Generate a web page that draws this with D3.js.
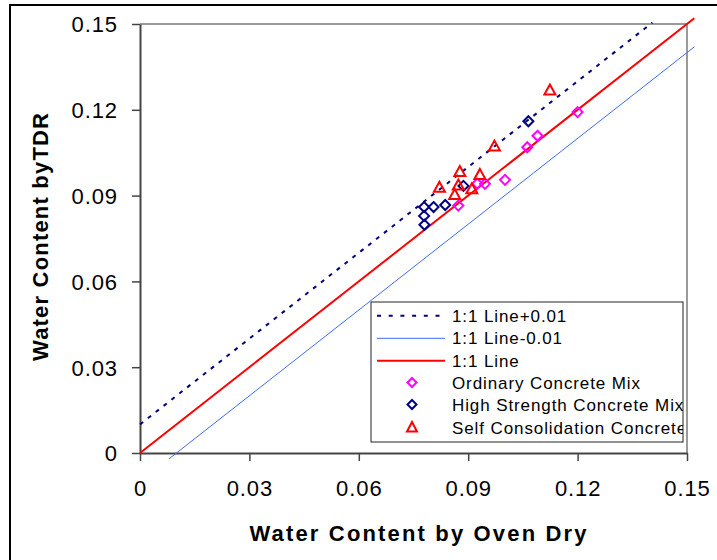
<!DOCTYPE html>
<html>
<head>
<meta charset="utf-8">
<script src="https://cdn.jsdelivr.net/npm/d3@7/dist/d3.min.js"></script>
<style>
  html, body { margin: 0; padding: 0; background: #fff; }
  svg { display: block; }
  text { font-family: Arial, "Liberation Sans", sans-serif; fill: #000; }
</style>
</head>
<body>
<svg id="chart" width="717" height="560"></svg>
<script>
// ---- data ----
const xTicks = [0, 0.03, 0.06, 0.09, 0.12, 0.15];
const yTicks = [0, 0.03, 0.06, 0.09, 0.12, 0.15];
const xTickLabels = ["0", "0.03", "0.06", "0.09", "0.12", "0.15"];
const yTickLabels = ["0", "0.03", "0.06", "0.09", "0.12", "0.15"];

const linePlus = [[0, 0.01], [0.1405, 0.1505]];      // 1:1 Line+0.01
const lineMinus = [[0.008, -0.002], [0.152, 0.142]]; // 1:1 Line-0.01
const lineOne = [[0, 0], [0.152, 0.152]];            // 1:1 Line

const ordinary = [[0.1200, 0.1192], [0.1090, 0.1109], [0.1062, 0.1069], [0.1001, 0.0955],
                  [0.0946, 0.0941], [0.0925, 0.0942], [0.0873, 0.0865]];
const highStrength = [[0.1065, 0.1160], [0.0887, 0.0934], [0.0837, 0.0867], [0.0805, 0.0860],
                      [0.0779, 0.0860], [0.0779, 0.0829], [0.0780, 0.0798]];
const selfConsol = [[0.1124, 0.1269], [0.0972, 0.1073], [0.0877, 0.0984], [0.0932, 0.0974],
                    [0.0821, 0.0929], [0.0873, 0.0937], [0.0863, 0.0904], [0.0910, 0.0924]];

const legendLabels = ["1:1 Line+0.01", "1:1 Line-0.01", "1:1 Line",
                      "Ordinary Concrete Mix", "High Strength Concrete Mix", "Self Consolidation Concrete"];

// ---- layout ----
const svg = d3.select("#chart");
const L = 140, R = 687, T = 24, B = 453;
const x = d3.scaleLinear().domain([0, 0.15]).range([L, R]);
const y = d3.scaleLinear().domain([0, 0.15]).range([B, T]);

// outer frame
svg.append("rect").attr("x", 10).attr("y", 5).attr("width", 720).attr("height", 580)
  .attr("fill", "none").attr("stroke", "#000").attr("stroke-width", 2);

// plot border (top/right)
svg.append("path").attr("d", `M${L},${T}H${R}V${B}`)
  .attr("fill", "none").attr("stroke", "#7a7a7a").attr("stroke-width", 1.5);

// axes
const xAxis = d3.axisBottom(x).tickValues(xTicks).tickSize(8).tickSizeOuter(0)
  .tickFormat((d, i) => xTickLabels[i]);
const yAxis = d3.axisLeft(y).tickValues(yTicks).tickSize(8).tickSizeOuter(0)
  .tickFormat((d, i) => yTickLabels[i]);

const gx = svg.append("g").attr("transform", `translate(0,${B})`).call(xAxis);
const gy = svg.append("g").attr("transform", `translate(${L},0)`).call(yAxis);
[gx, gy].forEach(g => {
  g.select(".domain").attr("stroke", "#444").attr("stroke-width", 2);
  g.selectAll(".tick line").attr("stroke", "#444").attr("stroke-width", 1.5);
  g.selectAll(".tick text").attr("font-size", 22).attr("letter-spacing", 0.9)
    .attr("font-family", 'Arial, "Liberation Sans", sans-serif').attr("fill", "#000");
});
gx.selectAll(".tick text").attr("dy", 0).attr("y", 43);
gy.selectAll(".tick text").attr("x", -22).attr("dy", "0.36em");

// axis titles
svg.append("text").attr("x", 418).attr("y", 541).attr("text-anchor", "middle")
  .attr("font-size", 22).attr("font-weight", "bold")
  .attr("textLength", 337).attr("lengthAdjust", "spacing")
  .text("Water Content by Oven Dry");
svg.append("text").attr("transform", "translate(48,237) rotate(-90)").attr("text-anchor", "middle")
  .attr("font-size", 22).attr("font-weight", "bold")
  .attr("textLength", 248).attr("lengthAdjust", "spacing")
  .text("Water Content byTDR");

// lines
const lineGen = d3.line().x(d => x(d[0])).y(d => y(d[1]));
svg.append("path").datum(lineMinus).attr("d", lineGen).attr("fill", "none")
  .attr("stroke", "#3d6bff").attr("stroke-width", 1);
svg.append("path").datum(lineOne).attr("d", lineGen).attr("fill", "none")
  .attr("stroke", "#ff0000").attr("stroke-width", 2);
svg.append("path").datum(linePlus).attr("d", lineGen).attr("fill", "none")
  .attr("stroke", "#000080").attr("stroke-width", 2).attr("stroke-dasharray", "4,6");

// markers
const diamond = "M0,-5L5,0L0,5L-5,0Z";
const triangle = "M0,-5.5L5.5,4.5L-5.5,4.5Z";
function drawPts(data, path, color) {
  svg.append("g").selectAll("path").data(data).join("path")
    .attr("d", path)
    .attr("transform", d => `translate(${x(d[0])},${y(d[1])})`)
    .attr("fill", "none").attr("stroke", color).attr("stroke-width", 2);
}
drawPts(ordinary, diamond, "#ff00ff");
drawPts(highStrength, diamond, "#000080");
drawPts(selfConsol, triangle, "#ff0000");

// legend
const lg = svg.append("g");
const LX = 371, LY = 302, LW = 312, LH = 140;
svg.append("clipPath").attr("id", "legclip").append("rect")
  .attr("x", LX).attr("y", LY).attr("width", LW).attr("height", LH);
lg.append("rect").attr("x", LX).attr("y", LY).attr("width", LW).attr("height", LH)
  .attr("fill", "#fff").attr("stroke", "#222").attr("stroke-width", 1);
const rowsY = [315.7, 338.3, 360.7, 382.5, 404.5, 427.5];
const inner = lg.append("g").attr("clip-path", "url(#legclip)");
// line samples
inner.append("line").attr("x1", 377).attr("x2", 445).attr("y1", rowsY[0]).attr("y2", rowsY[0])
  .attr("stroke", "#000080").attr("stroke-width", 2).attr("stroke-dasharray", "4,7.7");
inner.append("line").attr("x1", 377).attr("x2", 445).attr("y1", rowsY[1]).attr("y2", rowsY[1])
  .attr("stroke", "#3d6bff").attr("stroke-width", 1);
inner.append("line").attr("x1", 377).attr("x2", 445).attr("y1", rowsY[2]).attr("y2", rowsY[2])
  .attr("stroke", "#ff0000").attr("stroke-width", 2);
inner.append("path").attr("d", "M0,-4.5L4.5,0L0,4.5L-4.5,0Z").attr("transform", `translate(412,${rowsY[3]})`)
  .attr("fill", "none").attr("stroke", "#ff00ff").attr("stroke-width", 2);
inner.append("path").attr("d", "M0,-4.5L4.5,0L0,4.5L-4.5,0Z").attr("transform", `translate(412,${rowsY[4]})`)
  .attr("fill", "none").attr("stroke", "#000080").attr("stroke-width", 2);
inner.append("path").attr("d", "M0,-5.5L5,4L-5,4Z").attr("transform", `translate(412,${rowsY[5]})`)
  .attr("fill", "none").attr("stroke", "#ff0000").attr("stroke-width", 2);
inner.selectAll("text.leg").data(legendLabels).join("text").attr("class", "leg")
  .attr("x", 452).attr("y", (d, i) => rowsY[i]).attr("dy", "0.36em")
  .attr("font-size", 17).attr("letter-spacing", 0.9)
  .text(d => d);
</script>
</body>
</html>
